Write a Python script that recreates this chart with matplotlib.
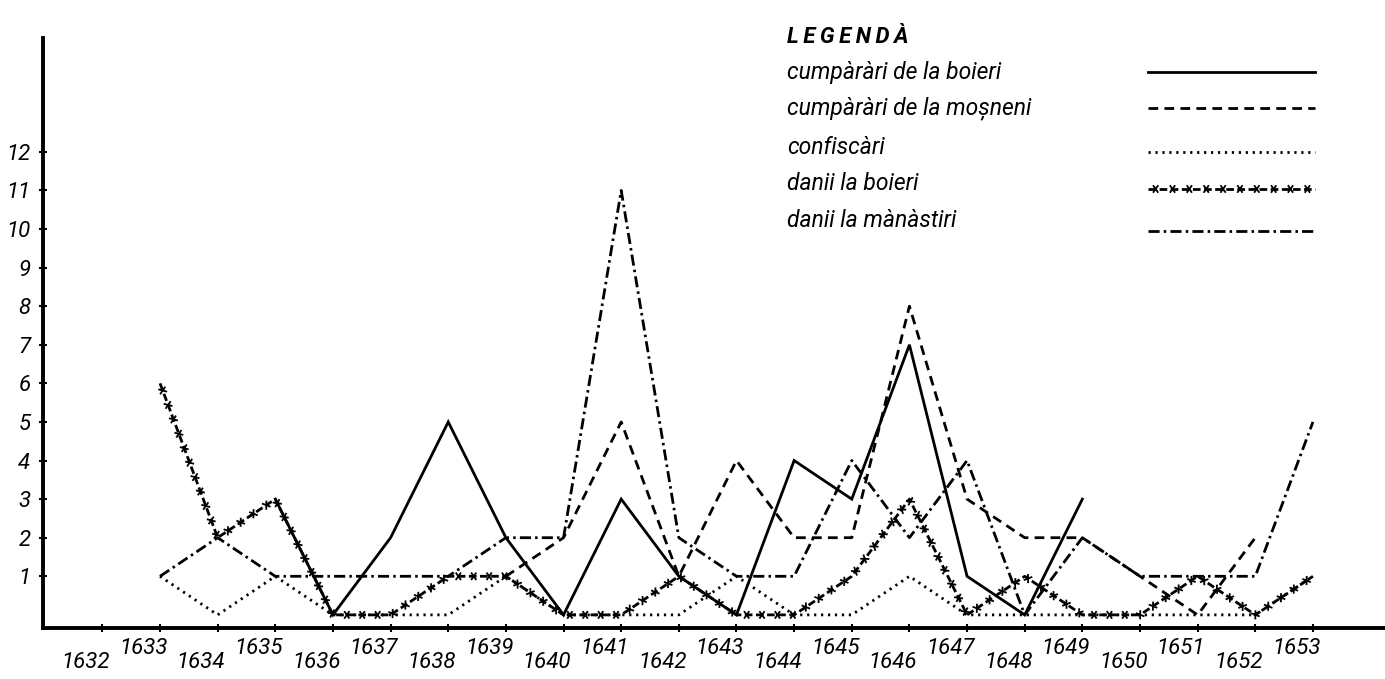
import numpy as np
import matplotlib

matplotlib.use("Agg")
import matplotlib.pyplot as plt
from matplotlib import patheffects as pe
from matplotlib.lines import Line2D

plt.rcParams["font.family"] = ["Roboto", "DejaVu Sans"]
plt.rcParams["lines.scale_dashes"] = False

nan = np.nan
years = list(range(1633, 1654))
axis_years = list(range(1632, 1654))

# values per year 1633..1653 (nan = no data)
cump_boieri = [nan, nan, 3, 0, 2, 5, 2, 0, 3, 1, 0, 4, 3, 7, 1, 0, 3, nan, nan, nan, nan]
cump_mosneni = [nan, nan, nan, nan, nan, nan, 1, 2, 5, 1, 4, 2, 2, 8, 3, 2, 2, 1, 0, 2, nan]
confiscari = [1, 0, 1, 0, 0, 0, 1, 0, 0, 0, 1, 0, 0, 1, 0, 0, 0, 0, 0, 0, 1]
danii_boieri = [6, 2, 3, 0, 0, 1, 1, 0, 0, 1, 0, 0, 1, 3, 0, 1, 0, 0, 1, 0, 1]
danii_manastiri = [1, 2, 1, 1, 1, 1, 2, 2, 11, 2, 1, 1, 4, 2, 4, 0, 2, 1, 1, 1, 5]

legend_title = "LEGENDÀ"
legend_labels = [
    "cumpàràri de la boieri",
    "cumpàràri de la moșneni",
    "confiscàri",
    "danii la boieri",
    "danii la mànàstiri",
]

W, H = 1385, 679
LW = 2.0


def xmarks():
    return [pe.TickedStroke(spacing=11, angle=a, length=0.24, linewidth=1.3) for a in (55, -125, 125, -55)]


styles = [
    dict(linestyle="-"),
    dict(dashes=(7, 4.5)),
    dict(dashes=(1.6, 3.4)),
    dict(dashes=(5.5, 2.5)),
    dict(dashes=(8, 3, 1.8, 3)),
]


def main():
    fig = plt.figure(figsize=(W / 100, H / 100), dpi=100)
    ax = fig.add_axes([43 / W, 1 - 628 / H, 1 - 43 / W, (628 - 38) / H])
    ax.set_xlim(1630.97, 1654.25)
    ax.set_ylim(-0.34, 14.95)

    series = [cump_boieri, cump_mosneni, confiscari, danii_boieri, danii_manastiri]
    for vals, st in zip(series, styles):
        ax.plot(years, vals, color="black", lw=LW, solid_joinstyle="miter", **st)
    ax.plot(years, danii_boieri, color="black", lw=1.3, path_effects=xmarks())

    for side in ("top", "right"):
        ax.spines[side].set_visible(False)
    for side in ("left", "bottom"):
        ax.spines[side].set_linewidth(2.8)

    ax.set_yticks(range(1, 13))
    ax.set_yticklabels([str(v) for v in range(1, 13)], fontsize=16, fontstyle="italic")
    ax.tick_params(axis="y", direction="inout", length=6, width=1.5, pad=6)

    ax.set_xticks(axis_years)
    ax.set_xticklabels([])
    ax.tick_params(axis="x", direction="inout", length=6, width=1.5)
    for yr in axis_years:
        dy = -15 if yr % 2 else -25
        ax.annotate(str(yr), xy=(yr, 0), xycoords=ax.get_xaxis_transform(),
                    xytext=(-12, dy), textcoords="offset points",
                    ha="center", va="center", fontsize=16, fontstyle="italic")

    # legend, drawn by hand: labels left, samples right
    fig.text(787 / W, 1 - 37 / H, "\u2009".join(legend_title), ha="left", va="center",
             fontsize=16, fontstyle="italic", fontweight="bold")
    text_y = [72, 108, 147, 184, 221]
    line_y = [72, 108, 152, 189, 231]
    for lab, ty, ly, st in zip(legend_labels, text_y, line_y, styles):
        fig.text(787 / W, 1 - ty / H, lab, ha="left", va="center",
                 fontsize=16.5, fontstyle="italic")
        fig.add_artist(Line2D([1148 / W, 1315 / W], [1 - ly / H] * 2,
                              transform=fig.transFigure, color="black", lw=LW, **st))
    fig.add_artist(Line2D([1148 / W, 1315 / W], [1 - line_y[3] / H] * 2,
                          transform=fig.transFigure, color="black", lw=1.3,
                          path_effects=xmarks()))

    fig.savefig("out.png", dpi=100, facecolor="white")
    plt.close(fig)


if __name__ == "__main__":
    main()
